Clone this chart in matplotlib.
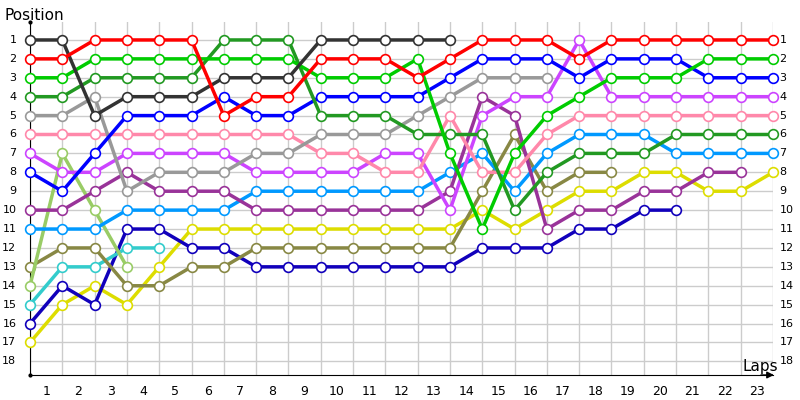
import matplotlib.pyplot as plt

# positions per lap (index 0 = start), None where the driver is gone
red = [2,2,1,1,1,1,5,4,4,2,2,2,3,2,1,1,1,2,1,1,1,1,1,1]
black = [1,1,5,4,4,4,3,3,3,1,1,1,1,1]
green = [3,3,2,2,2,2,2,2,2,3,3,3,2,7,11,7,5,4,3,3,3,2,2,2]
dkgreen = [4,4,3,3,3,3,1,1,1,5,5,5,6,6,6,10,8,7,7,7,6,6,6,6]
blue = [8,9,7,5,5,5,4,5,5,4,4,4,4,3,2,2,2,3,2,2,2,3,3,3]
gray = [5,5,4,9,8,8,8,7,7,6,6,6,5,4,3,3,3]
pink = [6,6,6,6,6,6,6,6,6,7,7,8,8,5,8,8,6,5,5,5,5,5,5,5]
violet = [7,8,8,7,7,7,7,8,8,8,8,7,7,10,5,4,4,1,4,4,4,4,4,4]
purple = [10,10,9,8,9,9,9,10,10,10,10,10,10,9,4,5,11,10,10,9,9,8,8]
ltblue = [11,11,11,10,10,10,10,9,9,9,9,9,9,8,7,9,7,6,6,6,7,7,7,7]
ygreen = [14,7,10,13]
olive = [13,12,12,14,14,13,13,12,12,12,12,12,12,12,9,6,9,8,8]
cyan = [15,13,13,12,12]
navy = [16,14,15,11,11,12,12,13,13,13,13,13,13,13,12,12,12,11,11,10,10]
yellow = [17,15,14,15,13,11,11,11,11,11,11,11,11,11,10,11,10,9,9,8,8,9,9,8]

series = [
    (red, '#ff0000'), (black, '#333333'), (green, '#00cc00'), (dkgreen, '#229922'),
    (blue, '#0000ff'), (gray, '#999999'), (pink, '#ff88aa'), (violet, '#cc44ff'),
    (purple, '#993399'), (ltblue, '#0099ff'), (ygreen, '#99cc66'), (olive, '#888844'),
    (cyan, '#33cccc'), (navy, '#1100bb'), (yellow, '#dddd00'),
]
laps = list(range(1, 24))
positions = list(range(1, 19))

fig = plt.figure(figsize=(8, 4), dpi=100)
ax = fig.add_axes([30/800, 25/400, 743/800, 353/400])

for vals, col in reversed(series):
    ax.plot(range(len(vals)), vals, color=col, lw=2.5, marker='o', ms=7,
            mfc='white', mec=col, mew=1.2, clip_on=False, zorder=3)

ax.set_xlim(0, 23)
ax.set_ylim(18.72, 0.05)
ax.set_xticks(range(24))
ax.set_yticks(positions)
ax.grid(True, color='#cccccc', lw=1)
ax.set_axisbelow(True)
ax.tick_params(length=0, labelbottom=False, labelleft=False)
for s in ['top', 'right']:
    ax.spines[s].set_visible(False)
for s in ['left', 'bottom']:
    ax.spines[s].set_color('black')

for k in laps:
    ax.text(k - 0.5, 18.72 + 0.55, str(k), ha='center', va='top', fontsize=9, family='DejaVu Sans')
for p in positions:
    ax.text(-0.42, p, str(p), ha='right', va='center', fontsize=8)
    ax.text(23.2, p, str(p), ha='left', va='center', fontsize=8)

ax.annotate('', xy=(1.005, 0), xytext=(0.98, 0), xycoords='axes fraction',
            arrowprops=dict(arrowstyle='-|>', color='black', lw=1))
ax.plot([0], [0.05], 'k.', ms=4, clip_on=False)
ax.plot([0], [18.72], 'k.', ms=4, clip_on=False)
fig.text(5/800, 1 - 15/400, 'Position', fontsize=11, va='center')
fig.text(742/800, 1 - 366/400, 'Laps', fontsize=11, va='center')

fig.savefig('out.png')
